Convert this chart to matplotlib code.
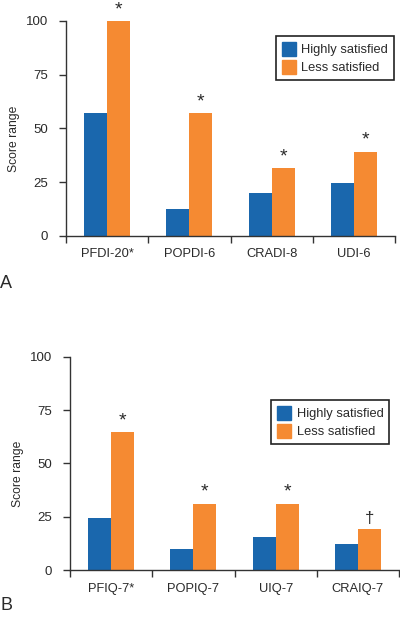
import numpy as np
import matplotlib
matplotlib.use('Agg')
import matplotlib.pyplot as plt
from matplotlib.patches import Patch

plt.rcParams['font.family'] = ['Liberation Sans', 'DejaVu Sans']

# Panel A data
labels_a = ['PFDI-20*', 'POPDI-6', 'CRADI-8', 'UDI-6']
high_a = [57, 12.4, 20, 24.8]
less_a = [100, 57, 31.5, 39.2]
marks_a = ['*', '*', '*', '*']

# Panel B data
labels_b = ['PFIQ-7*', 'POPIQ-7', 'UIQ-7', 'CRAIQ-7']
high_b = [24.2, 9.7, 15.5, 12]
less_b = [64.5, 31.1, 31.1, 19.4]
marks_b = ['*', '*', '*', '\u2020']

yticks = [0, 25, 50, 75, 100]

BLUE = '#1a67ad'
ORANGE = '#f58a32'
AXC = '#333333'
TXT = '#2a2a2a'

fig = plt.figure(figsize=(4, 6.2), dpi=100)


def panel(rect, labels, high, less, marks, letter, letter_y, legend_anchor):
    ax = fig.add_axes(rect)
    x = np.arange(len(labels))
    w = 0.28
    ax.bar(x - w / 2, high, w, color=BLUE, label='Highly satisfied')
    ax.bar(x + w / 2, less, w, color=ORANGE, label='Less satisfied')
    for xi, v, m in zip(x, less, marks):
        ax.annotate(m, (xi + w / 2, v), xytext=(0, 2), textcoords='offset points',
                    ha='center', va='bottom', fontsize=14 if m == '*' else 12,
                    color=TXT)
    ax.set_xlim(-0.5, len(labels) - 0.5)
    ax.set_ylim(0, 100)
    ax.set_yticks(yticks)
    ax.set_xticks(x)
    ax.set_xticklabels(labels, fontsize=9.3, color=TXT)
    ax.set_xticks(np.arange(len(labels) + 1) - 0.5, minor=True)
    ax.tick_params(axis='x', which='major', length=0, pad=9)
    ax.tick_params(axis='x', which='minor', length=5, width=1, color=AXC)
    ax.tick_params(axis='y', length=5, width=1, color=AXC, labelsize=9.5,
                   labelcolor=TXT, pad=8)
    for s in ['top', 'right']:
        ax.spines[s].set_visible(False)
    for s in ['left', 'bottom']:
        ax.spines[s].set_color(AXC)
        ax.spines[s].set_linewidth(1)
    ax.set_ylabel('Score range', fontsize=8.7, color=TXT)
    ax.yaxis.set_label_coords(-0.14, 0.45)
    handles = [Patch(color=BLUE), Patch(color=ORANGE)]
    leg = ax.legend(handles, ['Highly satisfied', 'Less satisfied'],
                    loc='upper right', bbox_to_anchor=legend_anchor,
                    fontsize=9.3, frameon=True, fancybox=False, framealpha=1,
                    edgecolor='#222222', handlelength=1.1, handleheight=1.3,
                    handletextpad=0.4, borderpad=0.45, labelspacing=0.3,
                    borderaxespad=0)
    for t in leg.get_texts():
        t.set_color(TXT)
    leg.get_frame().set_linewidth(1.2)
    fig.text(0.0, letter_y, letter, fontsize=13, color=TXT,
             ha='left', va='center')
    return ax


panel([0.165, 0.6194, 0.8225, 0.3468], labels_a, high_a, less_a, marks_a, 'A',
      1 - 283 / 620, (0.997, 0.93))
panel([0.175, 0.0806, 0.8225, 0.3441], labels_b, high_b, less_b, marks_b, 'B',
      1 - 606 / 620, (0.97, 0.797))

fig.savefig('out.png', dpi=100)
